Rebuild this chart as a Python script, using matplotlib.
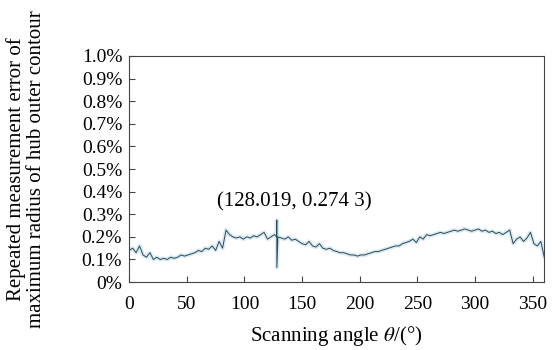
import numpy as np
import matplotlib
matplotlib.use("Agg")
import matplotlib.pyplot as plt
from matplotlib.ticker import FuncFormatter

# scanning angle grid (deg) and repeated measurement error (%)
angle = np.arange(0, 361, 3)
error = [0.14, 0.15, 0.13, 0.16, 0.12, 0.11, 0.13, 0.10, 0.11, 0.10,
         0.105, 0.10, 0.11, 0.105, 0.11, 0.12, 0.115, 0.12, 0.125, 0.13,
         0.14, 0.135, 0.15, 0.145, 0.16, 0.14, 0.18, 0.15, 0.23, 0.21,
         0.20, 0.195, 0.20, 0.19, 0.20, 0.195, 0.205, 0.20, 0.21, 0.22,
         0.19, 0.20, 0.21, 0.20, 0.195, 0.19, 0.20, 0.185, 0.19, 0.18,
         0.17, 0.165, 0.18, 0.16, 0.155, 0.17, 0.15, 0.145, 0.15, 0.14,
         0.135, 0.13, 0.13, 0.125, 0.12, 0.12, 0.115, 0.12, 0.12, 0.125,
         0.13, 0.135, 0.135, 0.14, 0.145, 0.15, 0.155, 0.16, 0.16, 0.17,
         0.175, 0.18, 0.19, 0.175, 0.20, 0.19, 0.21, 0.205, 0.21, 0.215,
         0.22, 0.215, 0.22, 0.225, 0.23, 0.225, 0.23, 0.235, 0.23, 0.225,
         0.23, 0.235, 0.225, 0.23, 0.22, 0.225, 0.215, 0.22, 0.21, 0.22,
         0.23, 0.17, 0.19, 0.20, 0.18, 0.195, 0.22, 0.17, 0.16, 0.18,
         0.11]

# the spike at the maximum
spike_angle = [127.9, 128.019, 128.1]
spike_error = [0.20, 0.2743, 0.065]

x = np.concatenate([angle, spike_angle])
y = np.concatenate([error, spike_error])
order = np.argsort(x)
x, y = x[order], y[order]

plt.rcParams["font.family"] = ["Liberation Serif", "DejaVu Serif"]
plt.rcParams["mathtext.fontset"] = "stix"

fig = plt.figure(figsize=(5.52, 3.5), dpi=100)
ax = fig.add_axes([0.234, 0.194, 0.752, 0.646])

ax.plot(x, y, color="#d8eaf3", lw=3.0, solid_capstyle="round")
ax.plot(x, y, color="#2e4a55", lw=0.7)

ax.annotate("(128.019, 0.274 3)", xy=(128.019, 0.2743), xytext=(143, 0.354),
            ha="center", va="center", fontsize=15)

ax.set_xlim(0, 360)
ax.set_ylim(0, 1.0)
ax.set_xticks(np.arange(0, 351, 50))
ax.set_yticks(np.arange(0, 1.01, 0.1))
ax.yaxis.set_major_formatter(FuncFormatter(lambda v, p: "0%" if v < 1e-9 else "%.1f%%" % v))
ax.tick_params(direction="in", labelsize=14, length=4, color="#444444")
ax.tick_params(axis="x", pad=10)
ax.tick_params(axis="y", pad=5)
for s in ax.spines.values():
    s.set_color("#444444")

ax.set_xlabel(r"Scanning angle $\theta$/(°)", fontsize=15, labelpad=8)
ax.set_ylabel("Repeated measurement error of\nmaximum radius of hub outer contour",
              fontsize=15, linespacing=1.1)
ax.yaxis.set_label_coords(-0.2, 0.5)

fig.savefig("out.png", dpi=100)
